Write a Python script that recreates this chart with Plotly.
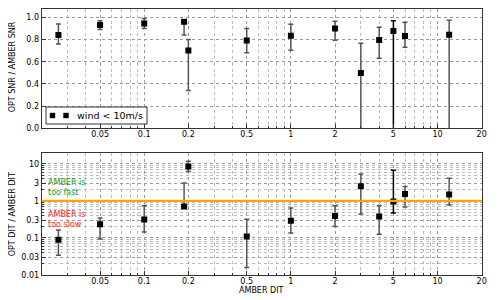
import numpy as np
import plotly.graph_objects as go

# ---- data ----
dit = [0.026, 0.05, 0.1, 0.187, 0.2, 0.5, 1, 2, 3, 4, 5, 6, 12]
snr_ratio = [0.84, 0.93, 0.945, 0.96, 0.70, 0.79, 0.834, 0.898, 0.498, 0.795, 0.877, 0.832, 0.843]
snr_hi = [0.94, 0.97, 0.99, 0.965, 0.80, 0.90, 0.937, 0.964, 0.766, 0.91, 0.97, 0.955, 0.973]
snr_lo = [0.76, 0.89, 0.90, 0.84, 0.34, 0.68, 0.703, 0.793, -0.1, 0.63, -0.1, 0.73, -0.1]

dit_ratio = [0.089, 0.236, 0.316, 0.71, 8.47, 0.109, 0.291, 0.389, 2.48, 0.381, 0.97, 1.54, 1.48]
dit_hi = [0.163, 0.344, 0.74, 3.05, 11.8, 0.32, 0.64, 0.74, 5.36, 0.74, 6.7, 2.43, 4.09]
dit_lo = [0.034, 0.093, 0.144, 0.70, 6.2, 0.016, 0.135, 0.204, 0.44, 0.126, 0.47, 0.68, 0.77]

x_ticks = [0.05, 0.1, 0.2, 0.5, 1, 2, 5, 10, 20]
x_ticklabels = ["0.05", "0.1", "0.2", "0.5", "1", "2", "5", "10", "20"]
y1_ticks = [0, 0.2, 0.4, 0.6, 0.8, 1.0]
y1_ticklabels = ["0.0", "0.2", "0.4", "0.6", "0.8", "1.0"]
y2_ticks = [0.01, 0.03, 0.1, 0.3, 1, 3, 10]
y2_ticklabels = ["0.01", "0.03", "0.1", "0.3", "1", "3", "10"]
legend_label = "wind < 10m/s"

# minor positions (2..9 per decade)
minor_vals = [m * 10.0 ** e for e in range(-2, 2) for m in range(2, 10)]

FONT = "DejaVu Sans"
# the page body has an 8px margin: size the figure to fill the rest of the window
OFF = 8
W, H = 498 - OFF, 300 - OFF
fig = go.Figure()


def px(x):
    """window pixel x -> paper fraction"""
    return (x - OFF) / W


def py(y):
    """window pixel y -> paper fraction"""
    return 1 - (y - OFF) / H


dark_idx = [10]  # the x=5 point has black error bars

for panel in ["top", "bot"]:
    if panel == "top":
        yv, hi, lo, xa, ya = snr_ratio, snr_hi, snr_lo, "x", "y"
    else:
        yv, hi, lo, xa, ya = dit_ratio, dit_hi, dit_lo, "x2", "y2"
    for group in ["gray", "black"]:
        idx = [i for i in range(len(dit)) if (i in dark_idx) == (group == "black")]
        xs = [dit[i] for i in idx]
        ys = [yv[i] for i in idx]
        eh = [hi[i] - yv[i] for i in idx]
        el = [yv[i] - lo[i] for i in idx]
        fig.add_trace(go.Scatter(
            x=xs, y=ys, mode="markers", xaxis=xa, yaxis=ya,
            marker=dict(symbol="square", size=6, color="black"),
            error_y=dict(type="data", symmetric=False, array=eh, arrayminus=el,
                         color="#555555" if group == "gray" else "#000000",
                         thickness=1.5, width=2.5),
            name=legend_label, showlegend=False,
        ))

# orange line at 1
fig.add_shape(type="line", xref="x2 domain", yref="y2", x0=0, x1=1, y0=1, y1=1,
              line=dict(color="#FFA500", width=2.2), layer="above")

# legend box (matplotlib-style, two markers)
fig.add_shape(type="rect", xref="paper", yref="paper", x0=px(46), x1=px(147),
              y0=py(124), y1=py(107), fillcolor="white",
              line=dict(color="#333333", width=1), layer="above")
for cx in (52.5, 66):
    fig.add_shape(type="rect", xref="paper", yref="paper",
                  x0=px(cx - 2.7), x1=px(cx + 2.7), y0=py(115.5 + 2.7), y1=py(115.5 - 2.7),
                  fillcolor="black", line=dict(width=0), layer="above")
fig.add_annotation(x=px(75), y=py(115.5), xref="paper", yref="paper",
                   text=legend_label, showarrow=False, xanchor="left", yanchor="middle",
                   font=dict(family=FONT, size=9.5, color="black"))

axis_common = dict(
    showline=True, mirror=True, linecolor="#333333", linewidth=1,
    ticks="inside", ticklen=4, tickcolor="#333333",
    tickfont=dict(family=FONT, size=8, color="black"),
    showgrid=True, gridcolor="#999999", griddash="dot", gridwidth=1,
    zeroline=False, automargin=False,
)
minor_common = dict(tickvals=minor_vals, ticks="inside", ticklen=2,
                    tickcolor="#333333", showgrid=True,
                    gridcolor="#bbbbbb", griddash="dot", gridwidth=1)
xaxis_common = dict(axis_common, type="log", range=[np.log10(0.02), np.log10(20)],
                    tickmode="array", tickvals=x_ticks, ticktext=x_ticklabels,
                    ticklabelstandoff=-2, minor=minor_common)

XD = [px(41.7), px(481.7)]
TOP = 8.5  # highest drawable window row
fig.update_layout(
    width=W, height=H,
    margin=dict(l=0, r=0, t=0, b=0),
    paper_bgcolor="white", plot_bgcolor="white",
    font=dict(family=FONT, size=8, color="black"),
    xaxis=dict(xaxis_common, domain=XD, anchor="y"),
    yaxis=dict(axis_common, domain=[py(128.3), py(TOP)], anchor="x",
               range=[0, (128.3 - TOP) / 111.0],
               tickmode="array", tickvals=y1_ticks, ticktext=y1_ticklabels),
    xaxis2=dict(xaxis_common, domain=XD, anchor="y2"),
    yaxis2=dict(axis_common, domain=[py(275), py(152.7)], anchor="x2", type="log",
                range=[-2, np.log10(20)], tickmode="array",
                tickvals=y2_ticks, ticktext=y2_ticklabels, minor=minor_common),
    showlegend=False,
)

# axis titles
fig.add_annotation(x=px(261.7), y=py(290.3), xref="paper", yref="paper",
                   text="AMBER DIT", showarrow=False, xanchor="center", yanchor="middle",
                   font=dict(family=FONT, size=8, color="black"))
fig.add_annotation(x=px(12.3), y=py(67), xref="paper", yref="paper",
                   text="OPT SNR / AMBER SNR", showarrow=False, textangle=-90,
                   xanchor="center", yanchor="middle",
                   font=dict(family=FONT, size=8, color="black"))
fig.add_annotation(x=px(12.3), y=py(214), xref="paper", yref="paper",
                   text="OPT DIT / AMBER DIT", showarrow=False, textangle=-90,
                   xanchor="center", yanchor="middle",
                   font=dict(family=FONT, size=8, color="black"))

fig.add_annotation(x=np.log10(0.0215), y=0.35, xref="x2", yref="y2",
                   text="AMBER is<br>too fast", showarrow=False, xanchor="left",
                   yanchor="middle", align="left",
                   font=dict(family=FONT, size=8, color="#1a9a1a"))
fig.add_annotation(x=np.log10(0.0215), y=-0.51, xref="x2", yref="y2",
                   text="AMBER is<br>too slow", showarrow=False, xanchor="left",
                   yanchor="middle", align="left",
                   font=dict(family=FONT, size=8, color="#ff1a1a"))

fig.write_html("out.html")
